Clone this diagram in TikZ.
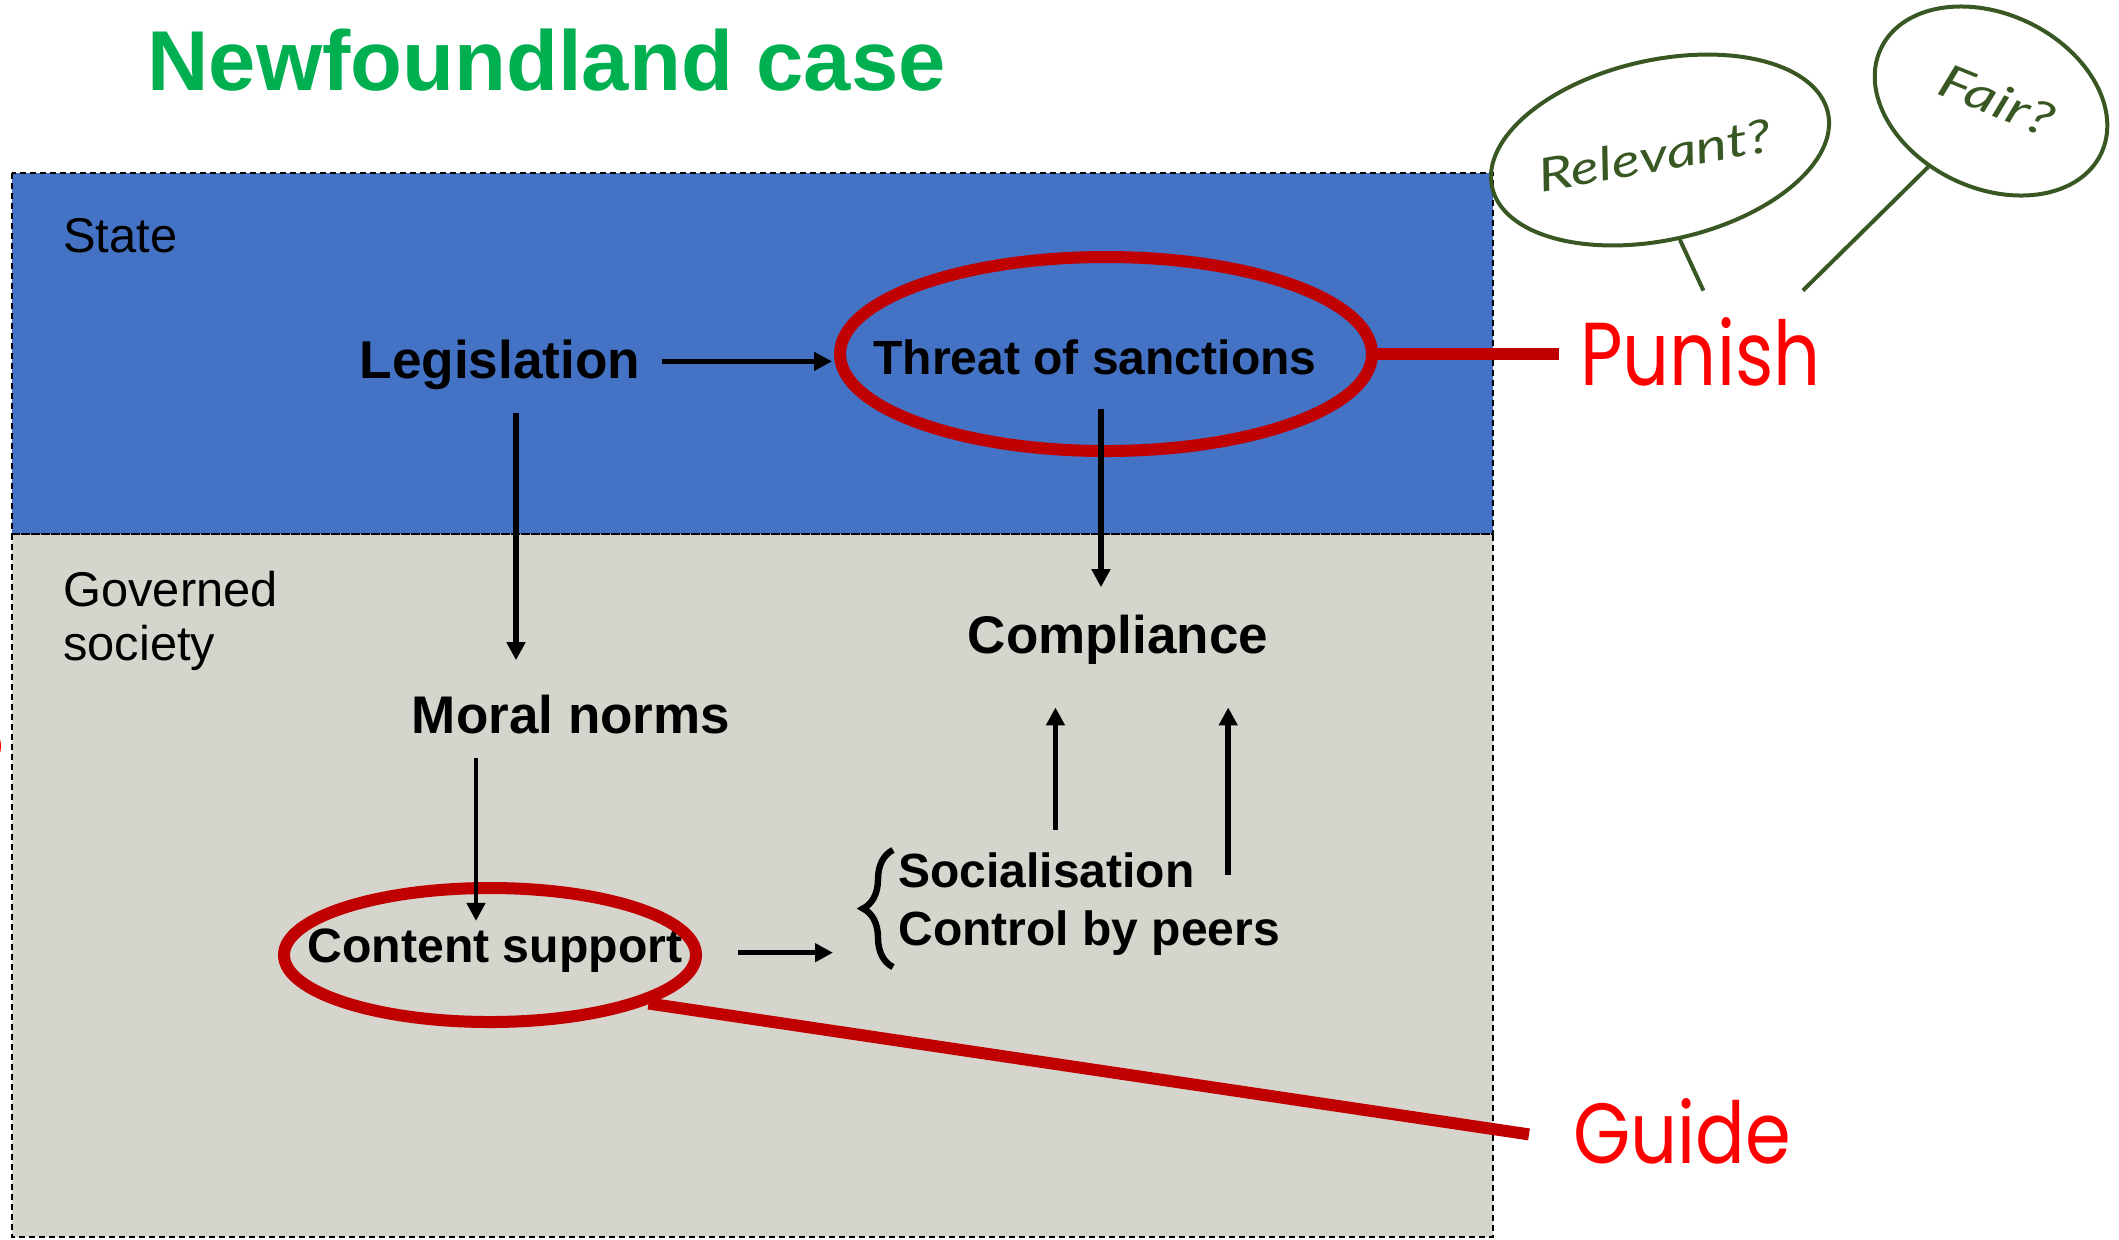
\documentclass[tikz,border=0pt]{standalone}
\usepackage{fontspec}
\usepackage{graphicx}
\setmainfont{Liberation Sans}
\newfontfamily\handfont{Poppins}
\newfontfamily\penfont{Lato}
\usetikzlibrary{arrows.meta,shapes.geometric,decorations.pathreplacing,calc}

\definecolor{stateblue}{RGB}{68,114,196}
\definecolor{societygray}{RGB}{213,213,205}
\definecolor{titlegreen}{RGB}{0,176,80}
\definecolor{markred}{RGB}{192,0,0}
\definecolor{wordred}{RGB}{255,0,0}
\definecolor{pengreen}{RGB}{56,87,35}

\begin{document}
\begin{tikzpicture}[x=0.5pt,y=-0.5pt,
  region/.style={draw=black, line width=1pt, dash pattern=on 3pt off 2pt},
  lbl/.style={inner sep=0pt, anchor=base},
  arr/.style={line width=2.75pt, -{Triangle[length=9pt,width=9pt]}},
  redmark/.style={draw=markred, line width=6pt},
  ring/.style={ellipse, draw=markred, line width=6pt, inner sep=0pt},
  bubble/.style={ellipse, draw=pengreen, line width=2pt, inner sep=0pt},
  penline/.style={draw=pengreen, line width=2pt},
  bigbold/.style={font=\fontsize{26.5}{31}\selectfont\bfseries},
  midbold/.style={font=\fontsize{24}{28}\selectfont\bfseries},
  plain/.style={font=\fontsize{24.4}{28}\selectfont},
]
\useasboundingbox (0,0) rectangle (2119,1239);

% regions
\fill[stateblue] (12,173) rectangle (1493,534);
\fill[societygray] (12,534) rectangle (1493,1237);
\draw[region] (12,173) rectangle (1493,534);
\draw[region] (12,534) rectangle (1493,1237);

% cut-off mark at the left edge
\node[anchor=north east, inner sep=0pt, text=wordred, font=\handfont\fontsize{40}{44}\selectfont] (qfrag) at (6,730) {?};

% title and region labels
\node[lbl, anchor=base west, text=titlegreen, font=\fontsize{42.5}{50}\selectfont\bfseries] (title) at (147,90) {Newfoundland case};
\node[lbl, anchor=base west, plain] (state) at (63,252) {State};
\node[lbl, anchor=base west, plain] (gov) at (63,606) {Governed};
\node[lbl, anchor=base west, plain] (soc2) at (63,660) {society};

% main texts
\node[lbl, font=\fontsize{26.6}{31}\selectfont\bfseries] (leg) at (500,378) {Legislation};
\node[lbl, font=\fontsize{24}{29}\selectfont\bfseries] (threat) at (1095,374) {Threat of sanctions};
\node[lbl, bigbold] (comp) at (1118,653) {Compliance};
\node[lbl, bigbold] (moral) at (571,733) {Moral norms};
\node[lbl, font=\fontsize{24.1}{28}\selectfont\bfseries] (content) at (495,962) {Content support};
\node[lbl, anchor=base west, midbold] (soc) at (898,887) {Socialisation};
\node[lbl, anchor=base west, midbold] (ctrl) at (898,945) {Control by peers};

% red rings
\node[ring, minimum width=266pt, minimum height=97pt] (threatring) at (1106,354) {};
\node[ring, minimum width=206pt, minimum height=67pt] (contentring) at (490,955) {};

% brace
\coordinate (bTop) at (893,850);
\coordinate (bBot) at (893,967);
\draw[line width=3.2pt, decorate, decoration={brace, amplitude=15pt}] (bBot) -- (bTop);

% arrows
\draw[arr] ($(leg.east)+(21,-3)$) -- ($(leg.east -| threatring.west)+(-2,-3)$);
\draw[arr, line width=3pt] ($(leg.south)+(16,23)$) -- ($(leg.south|-moral.north)+(16,-34)$);
\draw[arr, line width=3pt] ($(threat.south)+(6,34)$) -- ($(threat.south|-comp.north)+(6,-27)$);
\draw[arr, line width=2.4pt] ($(moral.south)+(-95,24)$) -- ($(moral.south|-content.north)+(-95,-7)$);
\draw[arr] ($(content.east)+(55.5,2.5)$) -- ($(content.east -| bTop)+(-60,2.5)$);
\draw[arr] ($(soc.north)+(9,-22)$) -- ($(soc.north|-comp.south)+(9,43)$);
\draw[arr] ($(ctrl.north east)+(-52,-35)$) -- ($(ctrl.north east|-comp.south)+(-52,43)$);

% red words and connectors
\node[lbl, anchor=base west, text=wordred] (punish) at (1580,385) {\resizebox{120pt}{34pt}{\handfont Punish}};
\node[lbl, anchor=base west, text=wordred] (guide) at (1573,1163) {\resizebox{109pt}{32.5pt}{\handfont Guide}};
\draw[redmark] ($(threatring.east)+(-6,0)$) -- ($(threatring.east -| punish.west)+(-21,0)$);
\draw[redmark] (contentring.-17) -- ($(guide.west)+(-44,3.5)$);

% green bubbles
\node[bubble, rotate=12.5, minimum width=172pt, minimum height=90pt] (relbub) at (1660,150) {};
\node[bubble, rotate=-25.6, minimum width=122pt, minimum height=87pt] (fairbub) at (1991,101) {};
\node[rotate=10, text=pengreen, inner sep=0pt] (rel) at (1655,155) {\resizebox{118pt}{17pt}{\penfont\itshape Relevant?}};
\node[rotate=-22, text=pengreen, inner sep=0pt] (fair) at (1997,100) {\resizebox{60pt}{17pt}{\penfont\itshape Fair?}};
\draw[penline] (relbub.south) -- ($(punish.north)+(3,-26)$);
\draw[penline] (fairbub.252) -- ($(punish.north east)+(-18,-26)$);
\end{tikzpicture}
\end{document}
